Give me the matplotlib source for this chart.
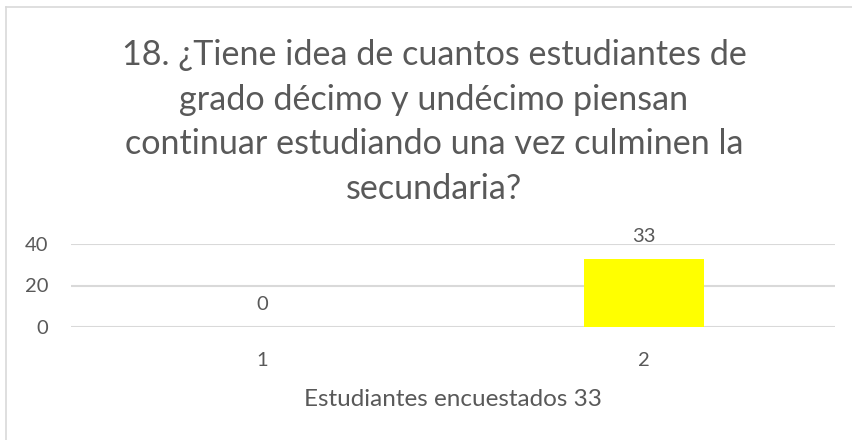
import matplotlib.pyplot as plt
from matplotlib.lines import Line2D

# Chart data
categories = ['1', '2']
values = [0, 33]
y_ticks = [0, 20, 40]
title = ('18. ¿Tiene idea de cuantos estudiantes de\n'
         'grado décimo y undécimo piensan\n'
         'continuar estudiando una vez culminen la\n'
         'secundaria?')
x_label = 'Estudiantes encuestados 33'

text_color = '#595959'
grid_color = '#d9d9d9'
bar_color = '#FFFF00'

plt.rcParams['font.family'] = ['Lato', 'DejaVu Sans']

W, H = 852, 440
fig = plt.figure(figsize=(W / 100, H / 100), dpi=100)

# plot area placed in pixels
left, right, top, bottom = 71, 835, 244, 327
ax = fig.add_axes([left / W, 1 - bottom / H, (right - left) / W, (bottom - top) / H])

x = list(range(len(categories)))
bars = ax.bar(x, values, width=0.314, color=bar_color, zorder=3)
ax.bar_label(bars, labels=[str(v) for v in values], padding=10,
             fontsize=14.5, color=text_color)

ax.set_xlim(-0.5, len(categories) - 0.5)
ax.set_ylim(0, 40)
ax.set_yticks(y_ticks)
ax.set_xticks(x)
ax.set_xticklabels(categories)
ax.tick_params(axis='both', length=0, labelsize=14.5, labelcolor=text_color)
ax.tick_params(axis='y', pad=16.5)
ax.tick_params(axis='x', pad=18)
ax.grid(axis='y', color=grid_color, linewidth=1.5, zorder=0)
for s in ax.spines.values():
    s.set_visible(False)

ax.set_xlabel(x_label, fontsize=17.5, color=text_color, va='center')
ax.xaxis.set_label_coords(0.5, (bottom - 400) / (bottom - top))

fig.text(434 / W, 1 - 122 / H, title, ha='center', va='center',
         fontsize=24.6, color=text_color, linespacing=1.49)

# chart border (only top and left edge visible in the crop)
fig.add_artist(Line2D([6 / W, 1], [1 - 7 / H, 1 - 7 / H], color=grid_color, lw=1.2))
fig.add_artist(Line2D([6 / W, 6 / W], [0, 1 - 7 / H], color=grid_color, lw=1.2))

fig.savefig('out.png', dpi=100)
